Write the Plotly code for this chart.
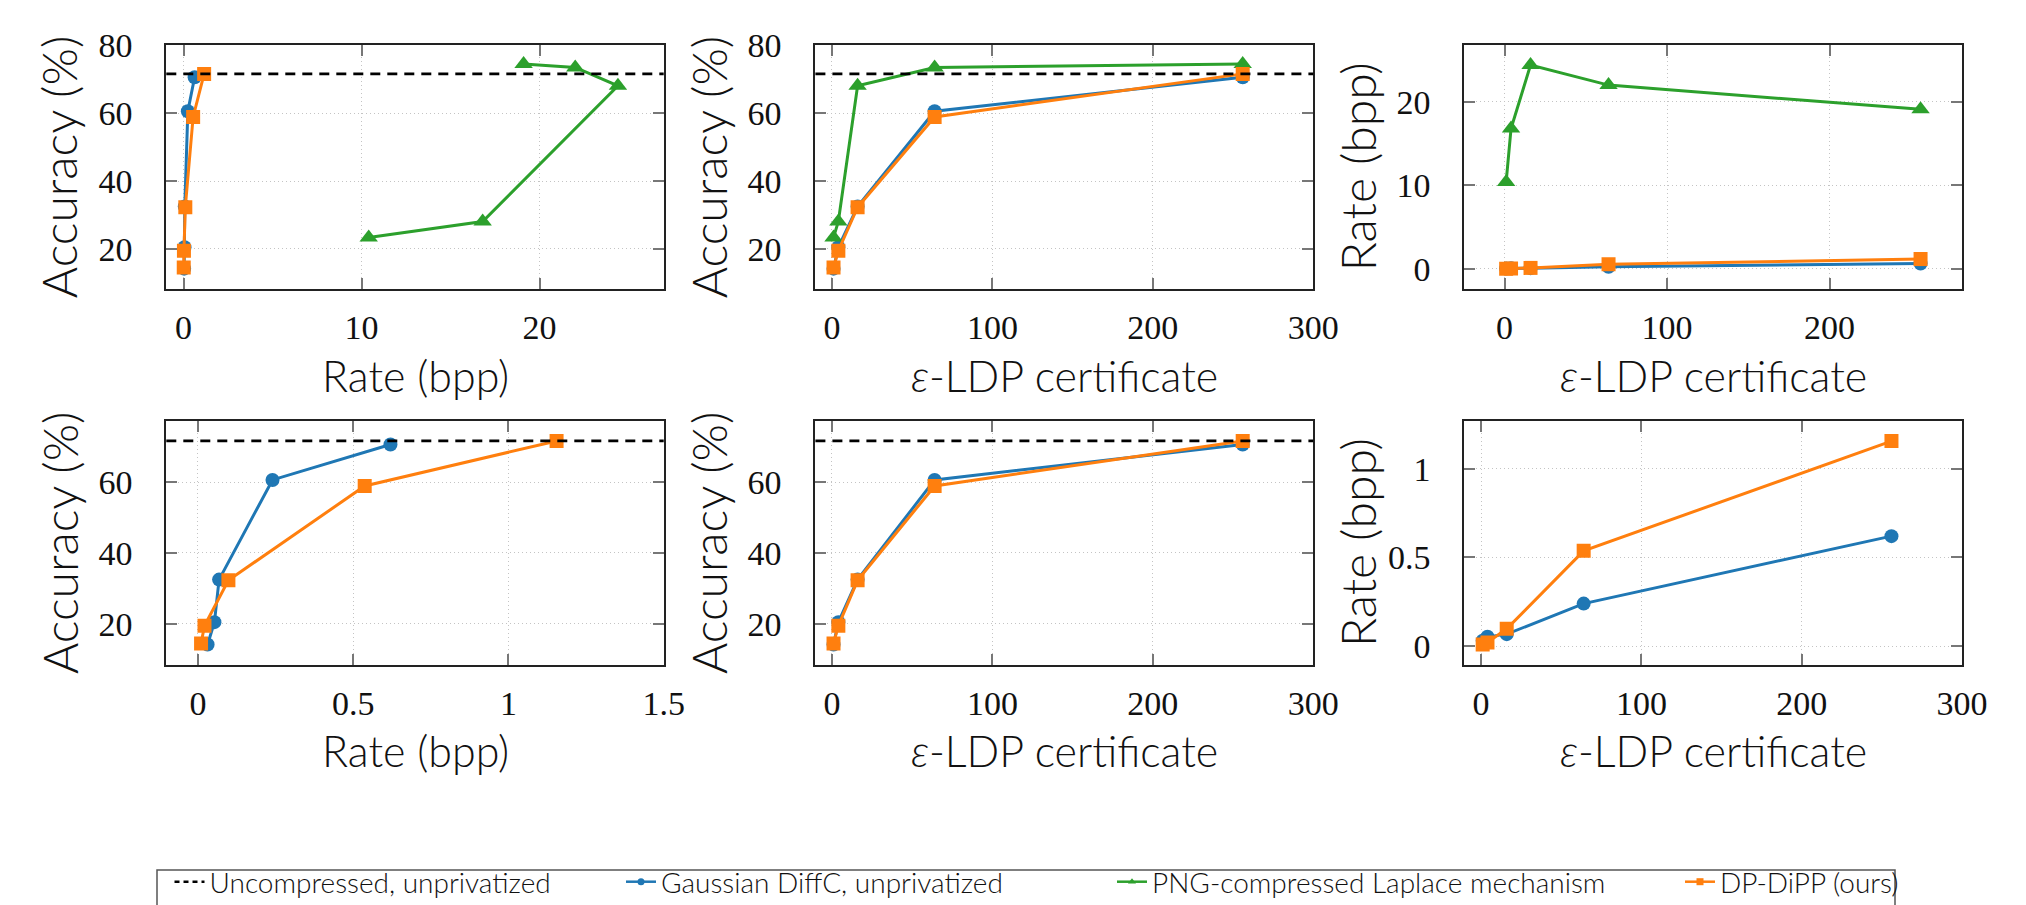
import plotly.graph_objects as go

# ---------------- data ----------------
eps = [1, 4, 16, 64, 256]
acc_uncompressed = 71.6

gauss_rate = [0.031, 0.053, 0.068, 0.24, 0.62]
gauss_acc = [14.2, 20.5, 32.5, 60.6, 70.6]

png_rate = [10.4, 16.8, 24.4, 22.0, 19.1]
png_acc = [23.4, 28.1, 68.1, 73.5, 74.5]

dp_rate = [0.010, 0.021, 0.098, 0.537, 1.155]
dp_acc = [14.5, 19.5, 32.3, 58.9, 71.6]

series_names = ["Uncompressed, unprivatized", "Gaussian DiffC, unprivatized",
                "PNG-compressed Laplace mechanism", "DP-DiPP (ours)"]

# ---------------- style ----------------
W, H = 2026, 905
BLUE, GREEN, ORANGE = "#1f77b4", "#2ca02c", "#ff7f0e"
TITLE_FONT = dict(family="Lato", size=43, color="#111", weight=300)
YTITLE_FONT = dict(family="Lato", size=48, color="#111", weight=300)
TICK_FONT = dict(family="Liberation Serif", size=34, color="#111")
LEG_FONT = dict(family="Lato", size=28, color="#111", weight=300)

def px_x(p):
    return p / W

def px_y(p):
    return 1 - p / H

cols = [(158.3, 655.7), (807.4, 1305.3), (1456.4, 1954.0)]
rows = [(36.7, 281.0), (412.7, 656.7)]

panels = [
    (0, 0, [-0.97, 26.97], [8.2, 80.2], [0, 10, 20], None, [20, 40, 60, 80], "Rate (bpp)", "Accuracy (%)",
     [("g", gauss_rate, gauss_acc), ("p", png_rate, png_acc), ("d", dp_rate, dp_acc)], True),
    (0, 1, [-10.3, 300], [8.2, 80.2], [0, 100, 200, 300], None, [20, 40, 60, 80], "eps", "Accuracy (%)",
     [("g", eps, gauss_acc), ("p", eps, png_acc), ("d", eps, dp_acc)], True),
    (0, 2, [-24.7, 281.5], [-2.43, 26.84], [0, 100, 200], None, [0, 10, 20], "eps", "Rate (bpp)",
     [("g", eps, gauss_rate), ("p", eps, png_rate), ("d", eps, dp_rate)], False),
    (1, 0, [-0.102, 1.5], [8.5, 77.3], [0, 0.5, 1, 1.5], ["0", "0.5", "1", "1.5"], [20, 40, 60], "Rate (bpp)", "Accuracy (%)",
     [("g", gauss_rate, gauss_acc), ("d", dp_rate, dp_acc)], True),
    (1, 1, [-10.3, 300], [8.5, 77.3], [0, 100, 200, 300], None, [20, 40, 60], "eps", "Accuracy (%)",
     [("g", eps, gauss_acc), ("d", eps, dp_acc)], True),
    (1, 2, [-10.4, 300], [-0.104, 1.27], [0, 100, 200, 300], None, [0, 0.5, 1], "eps", "Rate (bpp)",
     [("g", eps, gauss_rate), ("d", eps, dp_rate)], False),
]

styles = {
    "g": dict(color=BLUE, symbol="circle", size=14),
    "p": dict(color=GREEN, symbol="triangle-up", size=16),
    "d": dict(color=ORANGE, symbol="square", size=14),
}

EPS_TITLE = "<i>ε</i>-LDP certificate"

fig = go.Figure()
layout = dict(width=W, height=H, margin=dict(l=0, r=0, t=0, b=0, pad=0, autoexpand=False),
              paper_bgcolor="white", plot_bgcolor="white", showlegend=True)
annotations = []
shapes = []

for i, (r, c, xr, yr, xt, xtt, yt, xtitle, ytitle, series, baseline) in enumerate(panels):
    n = i + 1
    xa = "xaxis" if n == 1 else f"xaxis{n}"
    ya = "yaxis" if n == 1 else f"yaxis{n}"
    xref = "x" if n == 1 else f"x{n}"
    yref = "y" if n == 1 else f"y{n}"
    x0, x1 = cols[c]
    y0, y1 = rows[r]
    common = dict(showline=True, linecolor="#222", linewidth=2, mirror="ticks",
                  ticks="inside", ticklen=11, tickwidth=1.5, tickcolor="#777",
                  showgrid=True, gridcolor="#c4c4c4", gridwidth=1.2, griddash="1px,3px",
                  zeroline=False, tickfont=TICK_FONT, automargin=False)
    layout[xa] = dict(domain=[px_x(x0), px_x(x1)], range=xr, anchor=yref,
                      tickvals=xt, ticktext=xtt if xtt else [str(v) for v in xt],
                      ticklabelstandoff=7, **common)
    layout[ya] = dict(domain=[px_y(y1), px_y(y0)], range=yr, anchor=xref,
                      tickvals=yt, ticktext=[str(v) for v in yt],
                      ticklabelstandoff=25, **common)
    if baseline:
        shapes.append(dict(type="line", xref=f"{xref} domain", yref=yref, x0=0, x1=1,
                           y0=acc_uncompressed, y1=acc_uncompressed,
                           line=dict(color="black", width=2.7, dash="10px,7px"), layer="above"))
    for key, xs, ys in series:
        st = styles[key]
        fig.add_trace(go.Scatter(x=xs, y=ys, xaxis=xref, yaxis=yref, mode="lines+markers",
                                 line=dict(color=st["color"], width=3),
                                 marker=dict(color=st["color"], symbol=st["symbol"], size=st["size"]),
                                 showlegend=False, hoverinfo="skip"))
    xt_text = EPS_TITLE if xtitle == "eps" else xtitle
    annotations.append(dict(text=xt_text, xref="paper", yref="paper",
                            x=px_x((x0 + x1) / 2), y=px_y(y1 + 86),
                            xanchor="center", yanchor="middle", showarrow=False, font=TITLE_FONT))
    annotations.append(dict(text=ytitle, xref="paper", yref="paper",
                            x=px_x(x0 - 107), y=px_y((y0 + y1) / 2), textangle=-90,
                            xanchor="center", yanchor="middle", showarrow=False, font=YTITLE_FONT))

# legend-only entries
leg_text_x = [205.5, 657, 1148, 1716]
leg_specs = [
    dict(mode="lines", line=dict(color="black", width=2.5, dash="5px,4px")),
    dict(mode="lines+markers", line=dict(color=BLUE, width=2.5), marker=dict(color=BLUE, symbol="circle", size=7)),
    dict(mode="lines+markers", line=dict(color=GREEN, width=2.5), marker=dict(color=GREEN, symbol="triangle-up", size=7)),
    dict(mode="lines+markers", line=dict(color=ORANGE, width=2.5), marker=dict(color=ORANGE, symbol="square", size=7)),
]
for k, (name, spec) in enumerate(zip(series_names, leg_specs)):
    lg = "legend" if k == 0 else f"legend{k + 1}"
    fig.add_trace(go.Scatter(x=[None], y=[None], name=name, legend=lg, showlegend=True, **spec))
    layout[lg] = dict(x=px_x(leg_text_x[k] - 44), y=px_y(874), xanchor="left", yanchor="middle",
                      orientation="h", font=LEG_FONT, bgcolor="rgba(0,0,0,0)", borderwidth=0)

# legend frame
shapes.append(dict(type="rect", xref="paper", yref="paper", x0=px_x(149), x1=px_x(1887),
                   y0=px_y(910), y1=px_y(862), line=dict(color="#555", width=1.5), layer="above"))

layout["annotations"] = annotations
layout["shapes"] = shapes
fig.update_layout(**layout)
fig.write_html("out.html")
